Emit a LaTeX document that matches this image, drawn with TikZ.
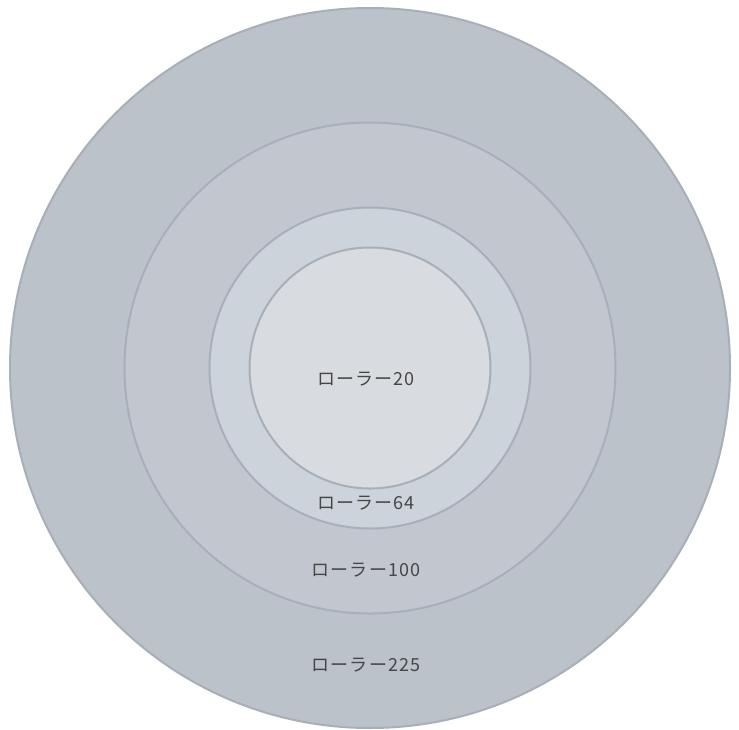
\documentclass[tikz,border=0pt]{standalone}
\usepackage{fontspec}
\newfontfamily\jpfont[LetterSpace=6]{Noto Sans CJK JP}
\definecolor{ringline}{RGB}{168, 175, 184}
\definecolor{ringa}{RGB}{187, 194, 202}
\definecolor{ringb}{RGB}{194, 199, 207}
\definecolor{ringc}{RGB}{205, 211, 218}
\definecolor{ringd}{RGB}{216, 219, 223}
\definecolor{labelgray}{RGB}{70, 70, 70}

\begin{document}
\begin{tikzpicture}[x=1pt, y=-1pt,
    ring/.style={draw=ringline, line width=2pt},
    ringlabel/.style={font=\jpfont\fontsize{18}{21}\selectfont, text=labelgray, inner sep=0pt}
  ]
  \useasboundingbox (0,0) rectangle (739,729);
  \coordinate (c) at (370,368);

  % rings, outside in
  \draw[ring, fill=ringa] (c) circle (360);
  \draw[ring, fill=ringb] (c) circle (245.5);
  \draw[ring, fill=ringc] (c) circle (160.5);
  \draw[ring, fill=ringd] (c) circle (120.5);

  % labels
  \node[ringlabel] (r20) at (366,379) {ローラー20};
  \node[ringlabel] (r64) at (366,503) {ローラー64};
  \node[ringlabel] (r100) at (366,570) {ローラー100};
  \node[ringlabel] (r225) at (366,665) {ローラー225};
\end{tikzpicture}
\end{document}
